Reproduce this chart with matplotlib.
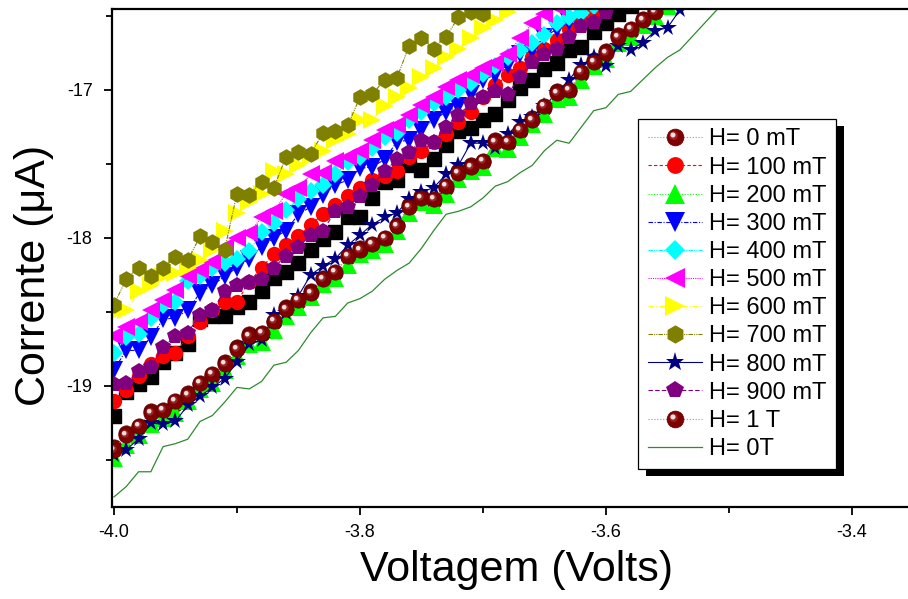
import matplotlib
matplotlib.use("Agg")
import matplotlib.pyplot as plt
from matplotlib.path import Path
from matplotlib.patches import Rectangle
from matplotlib.legend_handler import HandlerTuple
from matplotlib.ticker import MultipleLocator, FormatStrFormatter

plt.rcParams['font.family'] = ['Liberation Sans', 'DejaVu Sans']
plt.rcParams['axes.unicode_minus'] = False

# --- DATA ---
VOLTS = [-4.00, -3.99, -3.98, -3.97, -3.96, -3.95, -3.94, -3.93, -3.92, -3.91,
         -3.90, -3.89, -3.88, -3.87, -3.86, -3.85, -3.84, -3.83, -3.82, -3.81,
         -3.80, -3.79, -3.78, -3.77, -3.76, -3.75, -3.74, -3.73, -3.72, -3.71,
         -3.70, -3.69, -3.68, -3.67, -3.66, -3.65, -3.64, -3.63, -3.62, -3.61,
         -3.60, -3.59, -3.58, -3.57, -3.56, -3.55, -3.54, -3.53, -3.52, -3.51, -3.50]

I_0mT = [-19.41, -19.32, -19.28, -19.17, -19.17, -19.12, -19.05, -18.99, -18.93, -18.84,
         -18.74, -18.65, -18.65, -18.57, -18.47, -18.43, -18.36, -18.27, -18.24, -18.13,
         -18.07, -18.05, -18.01, -17.91, -17.78, -17.72, -17.75, -17.66, -17.55, -17.51,
         -17.49, -17.34, -17.36, -17.28, -17.19, -17.12, -17.01, -17.01, -16.89, -16.80,
         -16.74, -16.63, -16.60, -16.52, -16.46, -16.38, -16.30, -16.25, -16.19, -16.10, -16.04]
I_100 = [-19.10, -19.03, -18.93, -18.85, -18.80, -18.78, -18.66, -18.57, -18.49, -18.43,
         -18.43, -18.30, -18.20, -18.11, -18.05, -17.99, -17.91, -17.84, -17.78, -17.72,
         -17.66, -17.61, -17.58, -17.55, -17.45, -17.41, -17.35, -17.30, -17.22, -17.15,
         -17.05, -16.97, -16.90, -16.85, -16.78, -16.72, -16.66, -16.59, -16.53, -16.47,
         -16.42, -16.35, -16.28, -16.22, -16.15, -16.09, -16.02, -15.95, -15.89, -15.82, -15.76]
I_200 = [-19.49, -19.40, -19.33, -19.26, -19.22, -19.18, -19.10, -19.02, -18.98, -18.89,
         -18.80, -18.72, -18.70, -18.62, -18.53, -18.47, -18.40, -18.31, -18.27, -18.18,
         -18.11, -18.08, -18.04, -17.95, -17.83, -17.76, -17.78, -17.70, -17.60, -17.55,
         -17.52, -17.39, -17.40, -17.32, -17.23, -17.16, -17.06, -17.05, -16.93, -16.84,
         -16.79, -16.68, -16.64, -16.56, -16.50, -16.43, -16.36, -16.29, -16.22, -16.15, -16.08]
I_300 = [-18.89, -18.76, -18.76, -18.67, -18.55, -18.54, -18.49, -18.37, -18.32, -18.26,
         -18.20, -18.14, -18.06, -18.00, -17.95, -17.84, -17.79, -17.71, -17.64, -17.61,
         -17.53, -17.52, -17.47, -17.35, -17.34, -17.27, -17.20, -17.15, -17.11, -17.03,
         -16.93, -16.90, -16.83, -16.76, -16.73, -16.64, -16.59, -16.54, -16.49, -16.43,
         -16.37, -16.31, -16.24, -16.18, -16.11, -16.05, -15.98, -15.92, -15.85, -15.79, -15.72]
I_400 = [-18.78, -18.67, -18.65, -18.54, -18.45, -18.43, -18.29, -18.26, -18.20, -18.17,
         -18.14, -18.09, -17.96, -17.90, -17.81, -17.74, -17.68, -17.64, -17.57, -17.49,
         -17.45, -17.39, -17.32, -17.29, -17.20, -17.15, -17.09, -17.05, -17.00, -16.95,
         -16.89, -16.84, -16.78, -16.73, -16.68, -16.63, -16.55, -16.51, -16.48, -16.43,
         -16.37, -16.31, -16.25, -16.19, -16.13, -16.07, -16.01, -15.95, -15.89, -15.83, -15.77]
I_500 = [-18.66, -18.60, -18.57, -18.49, -18.42, -18.35, -18.26, -18.22, -18.16, -18.06,
         -18.00, -17.97, -17.86, -17.82, -17.70, -17.66, -17.57, -17.56, -17.48, -17.45,
         -17.41, -17.34, -17.27, -17.24, -17.17, -17.10, -17.05, -16.98, -16.93, -16.90,
         -16.85, -16.82, -16.76, -16.65, -16.55, -16.49, -16.44, -16.38, -16.32, -16.26,
         -16.20, -16.14, -16.08, -16.02, -15.96, -15.90, -15.84, -15.78, -15.72, -15.66, -15.60]
I_600 = [-18.51, -18.49, -18.36, -18.32, -18.26, -18.24, -18.20, -18.15, -18.08, -17.95,
         -17.83, -17.76, -17.70, -17.55, -17.57, -17.51, -17.45, -17.41, -17.34, -17.30,
         -17.20, -17.20, -17.11, -17.05, -16.99, -16.91, -16.85, -16.78, -16.72, -16.65,
         -16.58, -16.53, -16.47, -16.41, -16.35, -16.28, -16.22, -16.16, -16.10, -16.03,
         -15.97, -15.91, -15.85, -15.78, -15.72, -15.66, -15.60, -15.53, -15.47, -15.41, -15.35]
I_700 = [-18.45, -18.28, -18.20, -18.26, -18.20, -18.13, -18.15, -17.99, -18.03, -18.08,
         -17.70, -17.71, -17.62, -17.66, -17.45, -17.42, -17.43, -17.29, -17.28, -17.24,
         -17.05, -17.03, -16.93, -16.92, -16.70, -16.65, -16.72, -16.64, -16.51, -16.47,
         -16.49, -16.40, -16.33, -16.28, -16.20, -16.15, -16.08, -16.02, -15.95, -15.88,
         -15.82, -15.75, -15.70, -15.62, -15.55, -15.50, -15.42, -15.36, -15.30, -15.22, -15.16]
I_800 = [-19.47, -19.43, -19.36, -19.25, -19.26, -19.24, -19.13, -19.07, -19.01, -18.95,
         -18.84, -18.72, -18.69, -18.52, -18.51, -18.39, -18.25, -18.19, -18.14, -18.05,
         -17.98, -17.91, -17.86, -17.83, -17.74, -17.69, -17.66, -17.57, -17.51, -17.36,
         -17.36, -17.39, -17.30, -17.22, -17.18, -17.11, -17.02, -16.93, -16.83, -16.78,
         -16.84, -16.70, -16.73, -16.68, -16.60, -16.58, -16.46, -16.38, -16.30, -16.24, -16.16]
I_900 = [-18.99, -18.98, -18.90, -18.87, -18.74, -18.66, -18.64, -18.52, -18.49, -18.36,
         -18.32, -18.30, -18.28, -18.20, -18.12, -18.06, -17.98, -17.95, -17.82, -17.79,
         -17.72, -17.64, -17.55, -17.47, -17.42, -17.34, -17.35, -17.25, -17.17, -17.09,
         -17.05, -17.01, -17.03, -16.91, -16.81, -16.76, -16.72, -16.64, -16.57, -16.54,
         -16.47, -16.40, -16.34, -16.27, -16.21, -16.15, -16.08, -16.02, -15.95, -15.89, -15.82]
I_1T = [-19.43, -19.33, -19.27, -19.18, -19.16, -19.10, -19.06, -18.98, -18.92, -18.85,
        -18.75, -18.66, -18.64, -18.56, -18.48, -18.42, -18.37, -18.28, -18.23, -18.12,
        -18.08, -18.04, -18.00, -17.92, -17.79, -17.73, -17.74, -17.65, -17.56, -17.52,
        -17.48, -17.35, -17.35, -17.27, -17.20, -17.11, -17.02, -17.00, -16.88, -16.81,
        -16.75, -16.64, -16.59, -16.53, -16.47, -16.39, -16.31, -16.24, -16.18, -16.11, -16.03]
I_BLACK = [-19.20, -19.04, -18.99, -18.94, -18.84, -18.78, -18.72, -18.55, -18.53, -18.53,
           -18.47, -18.43, -18.36, -18.27, -18.23, -18.17, -18.08, -18.01, -17.96, -17.86,
           -17.86, -17.73, -17.62, -17.61, -17.51, -17.54, -17.47, -17.37, -17.28, -17.26,
           -17.20, -17.16, -17.07, -16.99, -16.93, -16.86, -16.82, -16.73, -16.71, -16.61,
           -16.55, -16.49, -16.43, -16.36, -16.30, -16.22, -16.16, -16.08, -16.01, -15.95, -15.87]
I_0T = [-19.75, -19.68, -19.58, -19.58, -19.41, -19.39, -19.36, -19.24, -19.20, -19.11,
        -19.01, -19.02, -18.97, -18.86, -18.84, -18.76, -18.64, -18.54, -18.53, -18.44,
        -18.41, -18.36, -18.28, -18.22, -18.17, -18.07, -17.95, -17.84, -17.82, -17.79,
        -17.73, -17.65, -17.62, -17.56, -17.51, -17.41, -17.34, -17.36, -17.25, -17.14,
        -17.12, -17.03, -17.01, -16.93, -16.85, -16.78, -16.73, -16.64, -16.55, -16.46, -16.38]

# --- STYLE ---
BALL = '#800000'
BALL_MID = '#a84848'
BALL_SHINE = '#f4dede'
MS = 11
LW = 0.8

# off-centre circles used as shading on the "sphere" markers
# (marker paths are rescaled by their max extent, so markersize = MS * extent)
_m = Path.circle(center=(-0.22, 0.22), radius=0.5)
MID_MARKER = Path(_m.vertices, _m.codes)
MID_SCALE = 0.72
_c = Path.circle(center=(-0.3, 0.3), radius=0.3)
SHINE_MARKER = Path(_c.vertices, _c.codes)
SHINE_SCALE = 0.6

fig = plt.figure(figsize=(9.08, 5.99), dpi=100)
ax = fig.add_axes([0.1233, 0.1536, 0.8767, 0.9850 - 0.1536])


def ball_series(y, label, line_color):
    main, = ax.plot(VOLTS, y, linestyle=':', color=line_color, lw=LW,
                    marker='o', markersize=MS, markerfacecolor=BALL,
                    markeredgecolor='#5a0000', markeredgewidth=0.5, label=label)
    mid, = ax.plot(VOLTS, y, linestyle='none', marker=MID_MARKER,
                   markersize=MS * MID_SCALE, markerfacecolor=BALL_MID,
                   markeredgewidth=0, alpha=0.55, label='_nolegend_')
    shine, = ax.plot(VOLTS, y, linestyle='none', marker=SHINE_MARKER,
                     markersize=MS * SHINE_SCALE, markerfacecolor=BALL_SHINE,
                     markeredgewidth=0, label='_nolegend_')
    return (main, mid, shine)


def marker_series(y, label, color, marker, ls, ms=MS):
    ln, = ax.plot(VOLTS, y, linestyle=ls, color=color, lw=LW,
                  marker=marker, markersize=ms, markerfacecolor=color,
                  markeredgecolor=color, markeredgewidth=0, label=label)
    return ln


handles = []
ax.plot(VOLTS, I_BLACK, linestyle='none', marker='s', markersize=9.5,
        color='black', label='_nolegend_')
handles.append(ball_series(I_0mT, 'H= 0 mT', '#c88080'))
handles.append(marker_series(I_100, 'H= 100 mT', '#ff0000', 'o', (0, (3, 2))))
handles.append(marker_series(I_200, 'H= 200 mT', '#00ff00', '^', (0, (1, 1.5)), ms=12.5))
handles.append(marker_series(I_300, 'H= 300 mT', '#0000ff', 'v', (0, (4, 1.5, 1, 1.5)), ms=12.5))
handles.append(marker_series(I_400, 'H= 400 mT', '#00ffff', 'D', (0, (4, 1, 1, 1, 1, 1)), ms=9))
handles.append(marker_series(I_500, 'H= 500 mT', '#ff00ff', '<', (0, (1, 1)), ms=12.5))
handles.append(marker_series(I_600, 'H= 600 mT', '#ffff00', '>', (0, (5, 2, 1, 2)), ms=12.5))
handles.append(marker_series(I_700, 'H= 700 mT', '#808000', 'h', (0, (4, 1, 1, 1, 1, 1)), ms=12))
handles.append(marker_series(I_800, 'H= 800 mT', '#000080', '*', '-', ms=13))
handles.append(marker_series(I_900, 'H= 900 mT', '#800080', 'p', (0, (4, 2)), ms=12))
handles.append(ball_series(I_1T, 'H= 1 T', '#c88080'))
ln0, = ax.plot(VOLTS, I_0T, '-', color='#2e8b2e', lw=0.9, label='H= 0T')
handles.append(ln0)

labels = ['H= 0 mT', 'H= 100 mT', 'H= 200 mT', 'H= 300 mT', 'H= 400 mT', 'H= 500 mT',
          'H= 600 mT', 'H= 700 mT', 'H= 800 mT', 'H= 900 mT', 'H= 1 T', 'H= 0T']

# --- AXES ---
ax.set_xlim(-4.0016, -3.3545)
ax.set_ylim(-19.818, -16.453)
ax.xaxis.set_major_locator(MultipleLocator(0.2))
ax.xaxis.set_minor_locator(MultipleLocator(0.1))
ax.yaxis.set_major_locator(MultipleLocator(1))
ax.yaxis.set_minor_locator(MultipleLocator(0.5))
ax.xaxis.set_major_formatter(FormatStrFormatter('%.1f'))
ax.yaxis.set_major_formatter(FormatStrFormatter('%d'))
ax.tick_params(which='major', direction='out', length=6, width=1.3,
               labelsize=13, pad=6, top=False, right=False)
ax.tick_params(which='minor', direction='out', length=4, width=1.3,
               top=False, right=False)
ax.tick_params(axis='y', which='major', pad=8)
for side in ['left', 'bottom', 'top']:
    ax.spines[side].set_linewidth(1.6)
ax.spines['right'].set_visible(False)

ax.set_xlabel('Voltagem (Volts)', fontsize=31)
ax.set_ylabel('Corrente (μA)', fontsize=31)
ax.xaxis.set_label_coords(0.508, -0.086)
ax.yaxis.set_label_coords(-0.073, 0.464)

# --- LEGEND (with solid black drop shadow) ---
leg = ax.legend(handles, labels, loc='upper left', bbox_to_anchor=(0.661, 0.779),
                borderaxespad=0, fontsize=17, labelspacing=0.26, handlelength=2.3,
                handletextpad=0.3, borderpad=0.4, frameon=True, fancybox=False,
                framealpha=1, edgecolor='black', markerscale=1.1,
                handler_map={tuple: HandlerTuple(ndivide=1)})
leg.get_frame().set_linewidth(0.9)
leg.set_zorder(10)

fig.canvas.draw()
bb = leg.get_window_extent()
inv = ax.transAxes.inverted()
(x0, y0) = inv.transform((bb.x0 + 8, bb.y0 - 7))
(x1, y1) = inv.transform((bb.x1 + 8, bb.y1 - 7))
ax.add_patch(Rectangle((x0, y0), x1 - x0, y1 - y0, transform=ax.transAxes,
                       facecolor='black', edgecolor='none', zorder=9, clip_on=False))

fig.savefig('out.png', dpi=100)
